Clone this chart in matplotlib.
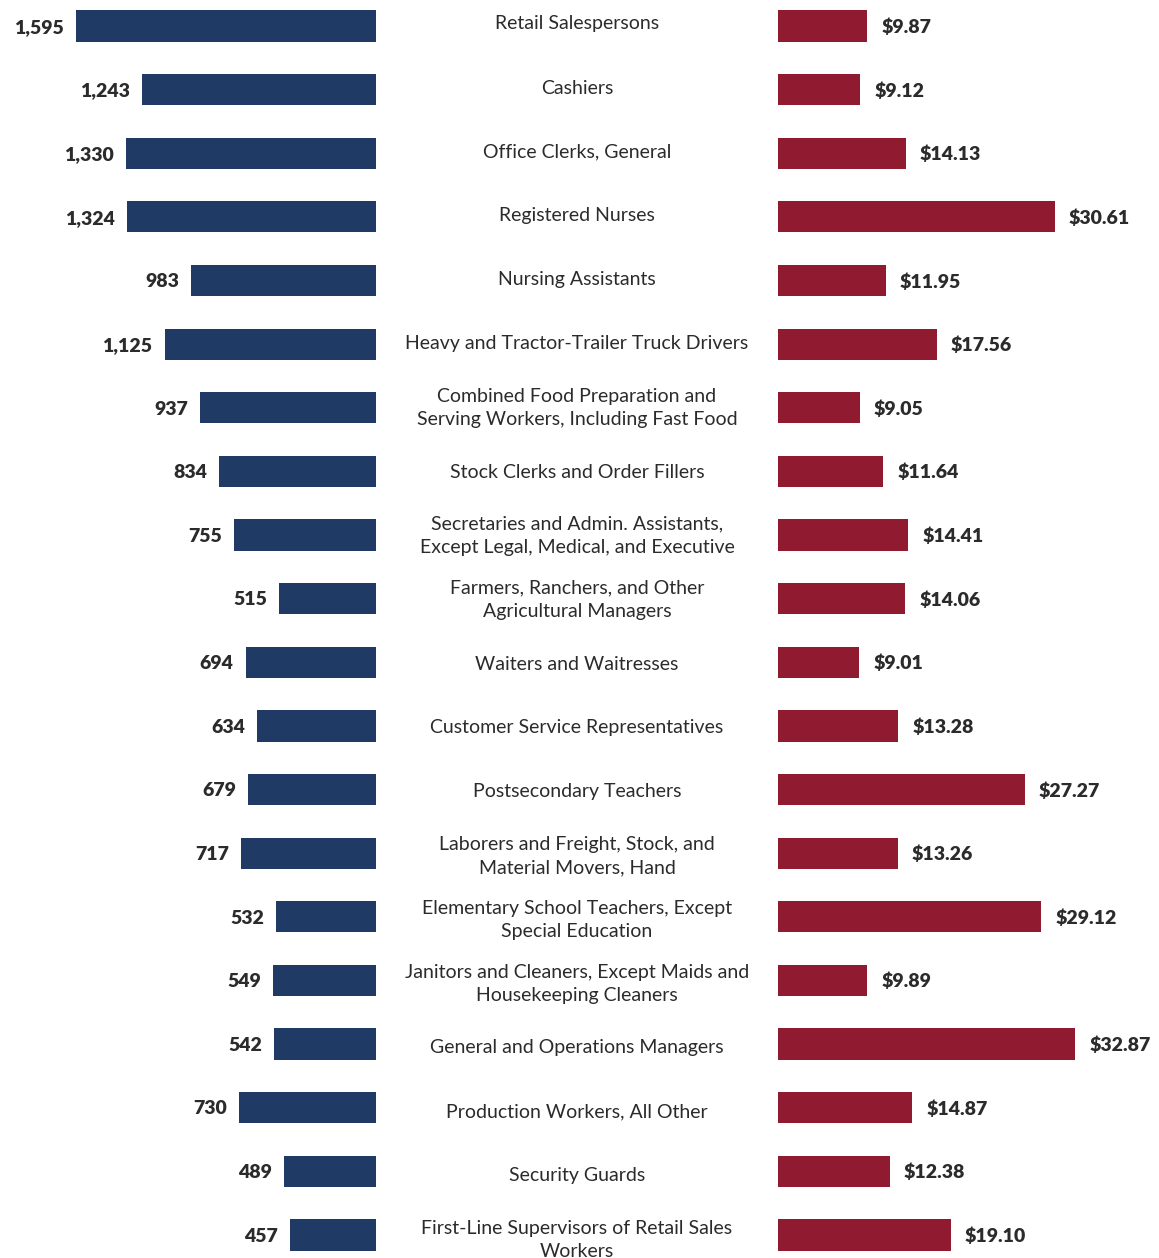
import matplotlib.pyplot as plt

plt.rcParams['font.family'] = ['Lato', 'DejaVu Sans']

occupations = [
    "Retail Salespersons",
    "Cashiers",
    "Office Clerks, General",
    "Registered Nurses",
    "Nursing Assistants",
    "Heavy and Tractor-Trailer Truck Drivers",
    "Combined Food Preparation and\nServing Workers, Including Fast Food",
    "Stock Clerks and Order Fillers",
    "Secretaries and Admin. Assistants,\nExcept Legal, Medical, and Executive",
    "Farmers, Ranchers, and Other\nAgricultural Managers",
    "Waiters and Waitresses",
    "Customer Service Representatives",
    "Postsecondary Teachers",
    "Laborers and Freight, Stock, and\nMaterial Movers, Hand",
    "Elementary School Teachers, Except\nSpecial Education",
    "Janitors and Cleaners, Except Maids and\nHousekeeping Cleaners",
    "General and Operations Managers",
    "Production Workers, All Other",
    "Security Guards",
    "First-Line Supervisors of Retail Sales\nWorkers",
]
employment = [1595, 1243, 1330, 1324, 983, 1125, 937, 834, 755, 515,
              694, 634, 679, 717, 532, 549, 542, 730, 489, 457]
wages = [9.87, 9.12, 14.13, 30.61, 11.95, 17.56, 9.05, 11.64, 14.41, 14.06,
         9.01, 13.28, 27.27, 13.26, 29.12, 9.89, 32.87, 14.87, 12.38, 19.10]

navy = '#1f3a64'
crimson = '#901a30'
txt = '#2b2b2b'

W, H = 1159, 1258
fig = plt.figure(figsize=(W / 100, H / 100), dpi=100)

rows = range(len(occupations))
# bar rows: first center at 26 px, spacing ~63.6 px
y_top = -26 / 63.63
y_bot = (H - 26) / 63.63

# left axes: employment, bars grow leftwards from x=376px
axl = fig.add_axes([0, 0, 376 / W, 1])
axl.barh(rows, employment, height=0.49, color=navy)
axl.set_xlim(2000, 0)
axl.set_ylim(y_bot, y_top)
for i, v in enumerate(employment):
    axl.text(v + 64, i + 0.02, f"{v:,}", ha='right', va='center',
             fontsize=14, fontweight='heavy', color=txt)
axl.axis('off')

# right axes: wages, bars grow rightwards from x=778px
axr = fig.add_axes([778 / W, 0, (W - 778) / W, 1])
axr.barh(rows, wages, height=0.49, color=crimson)
axr.set_xlim(0, (W - 778) / 9.04)
axr.set_ylim(y_bot, y_top)
for i, v in enumerate(wages):
    axr.text(v + 1.55, i + 0.02, f"${v:.2f}", ha='left', va='center',
             fontsize=14, fontweight='heavy', color=txt)
axr.axis('off')

# middle labels, slightly different spacing (64 px from 24 px)
axm = fig.add_axes([376 / W, 0, (778 - 376) / W, 1])
axm.set_xlim(0, 1)
axm.set_ylim((H - 24) / 64.0, -24 / 64.0)
for i, name in enumerate(occupations):
    axm.text(0.5, i, name, ha='center', va='center', fontsize=14,
             color=txt, linespacing=1.45, clip_on=False)
axm.axis('off')

fig.savefig('out.png', dpi=100)
